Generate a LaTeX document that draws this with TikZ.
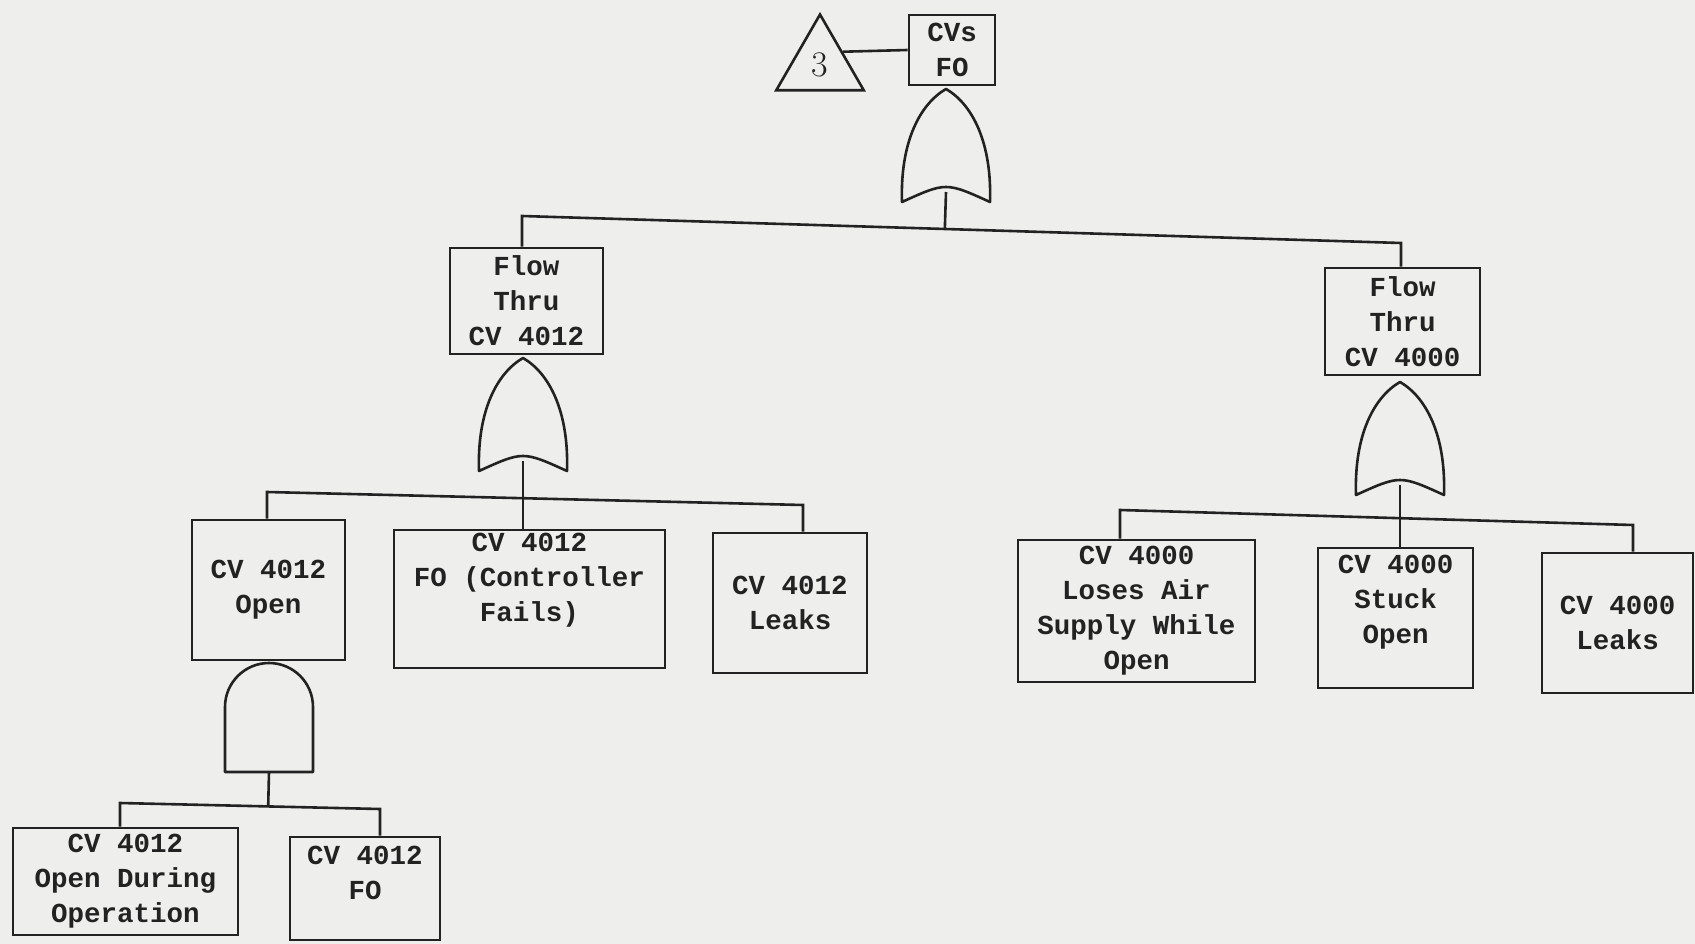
\documentclass[tikz,border=0pt]{standalone}
\usepackage{fontspec}
\setmonofont{Liberation Mono}
\usetikzlibrary{shapes.geometric,fit,calc}
\definecolor{bg}{RGB}{238,238,236}
\definecolor{ink}{RGB}{34,34,34}
\newcommand\boxfont{\ttfamily\bfseries\fontsize{27.5}{35}\selectfont}
\tikzset{
  box/.style={draw=ink, line width=2.8pt, inner sep=0pt},
  txt/.style={text=ink, font=\boxfont, align=center, inner sep=0pt},
  conn/.style={draw=ink, line width=2.6pt},
  gateline/.style={draw=ink, line width=2.6pt, line join=round},
  orgate/.pic={
    \draw[gateline] (-44,0) .. controls (-46,-60) and (-26,-98) .. (0,-113)
      .. controls (26,-98) and (46,-60) .. (44,0)
      .. controls (0,-20) .. (-44,0) -- cycle;
    \coordinate (-top) at (0,-113);
    \coordinate (-out) at (0,-10);
  },
  andgate/.pic={
    \draw[gateline] (-44,0) -- (-44,-65)
      .. controls (-44,-89.3) and (-24.3,-109) .. (0,-109)
      .. controls (24.3,-109) and (44,-89.3) .. (44,-65) -- (44,0) -- cycle;
    \coordinate (-top) at (0,-109);
    \coordinate (-out) at (0,0);
  }
}
% #1 name, #2 #3 corners, #4 vertical shift of the text, #5 text
\newcommand\evbox[5]{%
  \node[box, fit={#2 #3}] (#1) {};
  \node[txt] (#1-text) at ([yshift=#4]#1.center) {#5};
}
\begin{document}
\begin{tikzpicture}[x=1pt,y=-1pt]
\fill[bg] (0,0) rectangle (1695,944);
\useasboundingbox (0,0) rectangle (1695,944);

% top event
\node[draw=ink, line width=2.6pt, regular polygon, regular polygon sides=3,
      minimum size=101pt, inner sep=0pt, text=ink,
      font=\fontsize{36}{36}\selectfont] (tri) at (820,65) {3};
\evbox{cvs}{(909,15)}{(995,85)}{0pt}{CVs\\FO}
\draw[conn] (tri.side 3) -- (cvs.west);
\pic (g1) at (946,202) {orgate};

% level 2
\evbox{f4012}{(450,248)}{(603,354)}{0pt}{Flow\\Thru\\CV 4012}
\evbox{f4000}{(1325,268)}{(1480,375)}{0pt}{Flow\\Thru\\CV 4000}
\coordinate (b1L) at (522,216);
\coordinate (b1R) at (1401,243);
\draw[conn] (b1L |- f4012.north) -- (b1L) -- (b1R) -- (b1R |- f4000.north);
\draw[conn] (g1-out) -- ($(b1L)!(g1-out)!(b1R)$);

% CV 4012 branch
\pic (g2) at (523,471) {orgate};
\evbox{open}{(192,520)}{(345,660)}{0pt}{CV 4012\\Open}
\evbox{ctrl}{(394,530)}{(665,668)}{19pt}{CV 4012\\FO (Controller\\Fails)}
\evbox{leak12}{(713,533)}{(867,673)}{0pt}{CV 4012\\Leaks}
\coordinate (b2L) at (267,492);
\coordinate (b2R) at (803,505);
\draw[conn] (b2L |- open.north) -- (b2L) -- (b2R) -- (b2R |- leak12.north);
\draw[conn] (g2-out) -- (g2-out |- ctrl.north);

% AND gate under CV 4012 Open
\pic (a1) at (269,772) {andgate};
\evbox{odo}{(13,828)}{(238,935)}{0pt}{CV 4012\\Open During\\Operation}
\evbox{fo}{(290,837)}{(440,940)}{16pt}{CV 4012\\FO}
\coordinate (b4L) at (120,803);
\coordinate (b4R) at (380,809);
\draw[conn] (b4L |- odo.north) -- (b4L) -- (b4R) -- (b4R |- fo.north);
\draw[conn] (a1-out) -- ($(b4L)!(a1-out)!(b4R)$);

% CV 4000 branch
\pic (g3) at (1400,495) {orgate};
\evbox{loses}{(1018,540)}{(1255,682)}{0pt}{CV 4000\\Loses Air\\Supply While\\Open}
\evbox{stuck}{(1318,548)}{(1473,688)}{16pt}{CV 4000\\Stuck\\Open}
\evbox{leak40}{(1542,553)}{(1693,693)}{0pt}{CV 4000\\Leaks}
\coordinate (b3L) at (1120,510);
\coordinate (b3R) at (1633,525);
\draw[conn] (b3L |- loses.north) -- (b3L) -- (b3R) -- (b3R |- leak40.north);
\draw[conn] (g3-out) -- (g3-out |- stuck.north);
\end{tikzpicture}
\end{document}
